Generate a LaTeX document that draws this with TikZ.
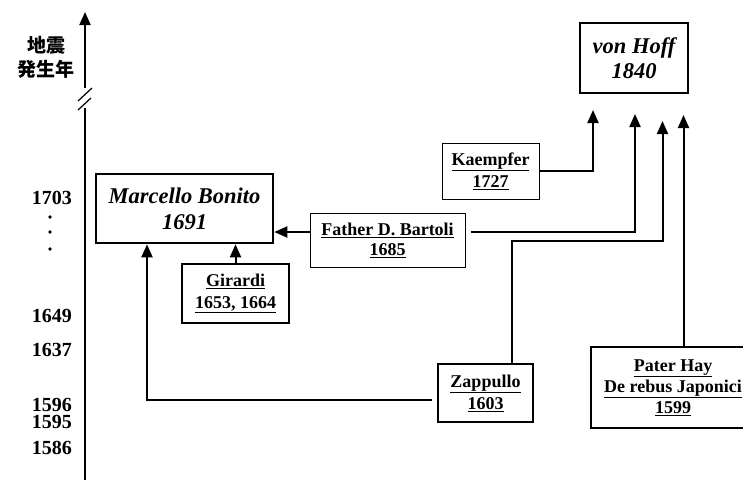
\documentclass[tikz,border=0pt]{standalone}
\usepackage{fontspec}
\setmainfont{Liberation Serif}
\newfontfamily\cjk{Noto Sans CJK JP}
\usetikzlibrary{arrows.meta,calc}
\tikzset{
  thickbox/.style={draw, line width=2.6pt, align=center, inner sep=0pt},
  thinbox/.style={draw, line width=1pt, align=center, inner sep=0pt},
  boxfont/.style={font=\fontsize{18}{22}\selectfont\bfseries},
  itfont/.style={font=\fontsize{22.5}{26}\selectfont\bfseries\itshape},
  yearlbl/.style={anchor=east, inner sep=0pt, font=\fontsize{20}{20}\selectfont\bfseries},
  arr/.style={line width=2pt, -{Triangle[width=11pt,length=13pt]}},
  conn/.style={line width=2pt}
}
\begin{document}
\begin{tikzpicture}[x=1pt,y=1pt]
\useasboundingbox (0,0) rectangle (743,-480);
\clip (0,0) rectangle (743,-480);
% axis
\coordinate (axbot) at (85,-480);
\coordinate (axbrk1) at (85,-108);
\coordinate (axbrk2) at (85,-88);
\coordinate (axtop) at (85,-12);
\draw[conn] (axbot) -- (axbrk1);
\draw[arr] (axbrk2) -- (axtop);
\draw[line width=1.2pt] ([xshift=-7,yshift=-13]axbrk2) -- ([xshift=7,yshift=0]axbrk2);
\draw[line width=1.2pt] ([xshift=-7,yshift=-22]axbrk2) -- ([xshift=6,yshift=-10]axbrk2);
% axis title
\node[font=\fontsize{19}{24}\selectfont\cjk\bfseries, align=center, inner sep=0pt] (ttl) at (46,-57) {地震\\発生年};
% year labels
\node[yearlbl] (y1703) at (72,-198) {1703};
\node[yearlbl] (y1649) at (72,-316) {1649};
\node[yearlbl] (y1637) at (72,-350) {1637};
\node[yearlbl] (y1596) at (72,-405) {1596};
\node[yearlbl] (y1595) at (72,-421.5) {1595};
\node[yearlbl] (y1586) at (72,-448) {1586};
\fill (50,-217) circle (1.8) (50,-232) circle (1.8) (50,-249) circle (1.8);
% boxes
\node[thickbox, itfont, minimum width=177, minimum height=69] (marcello) at (184.5,-208.5) {Marcello Bonito\\1691};
\node[thinbox, font=\fontsize{18}{20}\selectfont\bfseries, minimum width=155, minimum height=54] (father) at (387.5,-240) {\underline{Father D. Bartoli}\\\underline{1685}};
\node[thickbox, boxfont, line width=2.2pt, minimum width=107, minimum height=59] (girardi) at (235.5,-293.5) {\underline{Girardi}\\\underline{1653, 1664}};
\node[thinbox, boxfont, minimum width=97, minimum height=56] (kaempfer) at (490.5,-171) {\underline{Kaempfer}\\\underline{1727}};
\node[thickbox, boxfont, line width=2.2pt, minimum width=95, minimum height=58] (zappullo) at (485.5,-393) {\underline{Zappullo}\\\underline{1603}};
\node[thickbox, line width=2.2pt, minimum width=164, minimum height=81, font=\fontsize{18}{21}\selectfont\bfseries] (paterhay) at (673,-387.5) {\underline{Pater Hay}\\\underline{De rebus Japonici}\\\underline{1599}};
\node[thickbox, minimum width=108, minimum height=70, font=\fontsize{22.5}{25}\selectfont\bfseries\itshape] (vonhoff) at (634,-58) {von Hoff\\1840};
% arrow tips under von Hoff
\coordinate (t1) at (593,-110);
\coordinate (t2) at (635,-114);
\coordinate (t3) at (662.5,-121);
\coordinate (t4) at (683.5,-115);
% connectors
\draw[arr] ([yshift=8]father.west) -- ([yshift=8]father.west -| marcello.east);
\draw[arr] (girardi.north) -- (girardi.north |- marcello.south);
\draw[arr, shorten <=5pt] ([yshift=-7]zappullo.west) -| ([xshift=-37.5]marcello.south);
\draw[arr] (kaempfer.east) -| (t1);
\draw[arr, shorten <=5pt] ([yshift=8]father.east) -| (t2);
\draw[arr] ([xshift=26.5]zappullo.north) -- ++(0,122) -| (t3);
\draw[arr] ([xshift=10.5]paterhay.north) -- (t4);
\end{tikzpicture}
\end{document}
